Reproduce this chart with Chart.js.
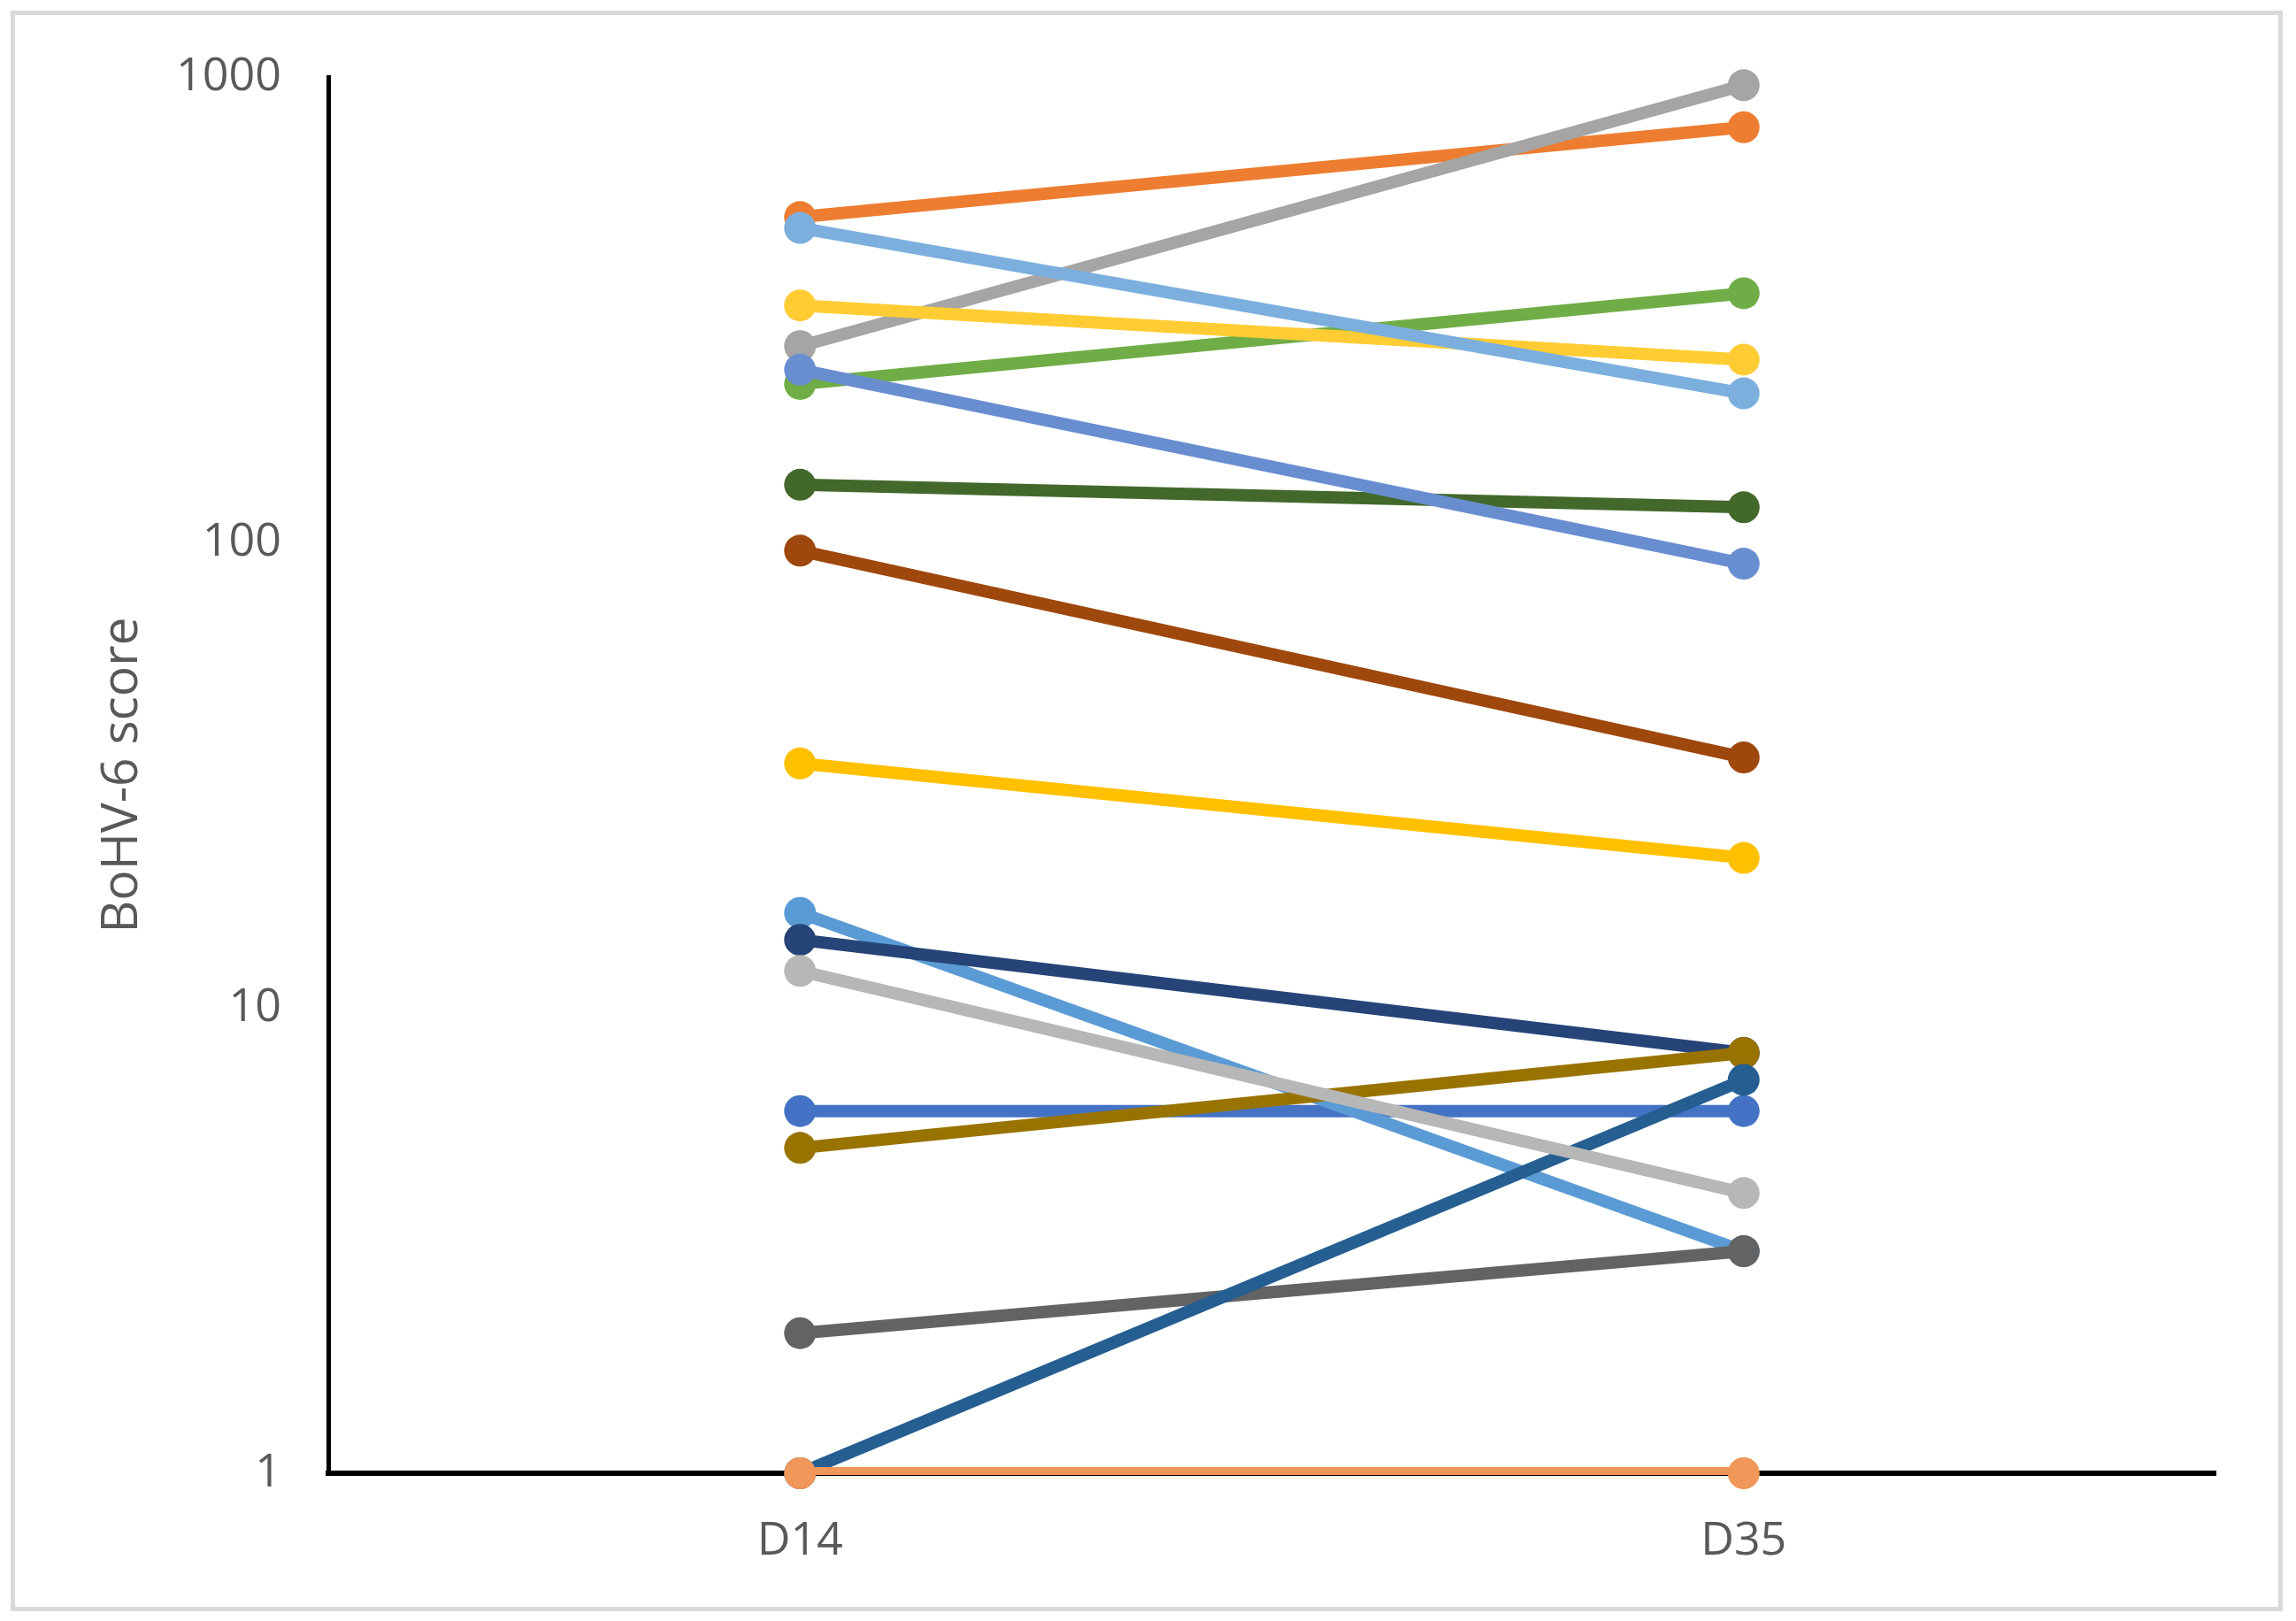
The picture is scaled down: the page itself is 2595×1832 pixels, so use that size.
<!DOCTYPE html>
<html>
<head>
<meta charset="utf-8">
<script src="https://cdn.jsdelivr.net/npm/chart.js@4.4.0/dist/chart.umd.min.js"></script>
<style>
  html, body { margin: 0; padding: 0; background: #fff; }
  #wrap { position: relative; width: 2595px; height: 1832px; }
  #frame { position: absolute; left: 12px; top: 12px; width: 2558px; height: 1799px; border: 5px solid #d9d9d9; }
  canvas { position: absolute; left: 0; top: 0; }
</style>
</head>
<body>
<div id="wrap">
  <div id="frame"></div>
  <canvas id="scoreChart" width="2595" height="1832"></canvas>
</div>
<script>
// ===== data =====
const days = ['D14', 'D35'];
const yTicks = [1, 10, 100, 1000];
const d14 = [6, 500, 264, 33.5, 16, 219, 14, 96, 2, 5, 1, 133, 235, 1, 12, 323, 474];
const d35 = [6, 780, 960, 21, 3, 343, 8, 34.5, 3, 8, 7, 119, 90, 1, 4, 247, 209];
const colors = [
    '#4472c4', '#ed7d31', '#a5a5a5', '#ffc000', '#5b9bd5', '#70ad47',
    '#264478', '#9e480e', '#636363', '#997300', '#255e91', '#43682b',
    '#698ed0', '#f1975a', '#b7b7b7', '#ffcd33', '#7cafdd'
];

const textColor = '#595959';
const tickFont = { family: "'Open Sans', sans-serif", size: 52 };
const titleFont = { family: "'Open Sans', sans-serif", size: 57 };
const n = d14.length;

// each series = a line (clipped to the plot like excel) + its markers (not clipped)
// later series sit on top
const datasets = [];
d14.forEach((v, i) => {
    datasets.push({
        data: [v, d35[i]],
        borderColor: colors[i],
        borderWidth: 14,
        pointRadius: 0,
        pointHoverRadius: 0,
        order: 2 * (n - i),
        clip: { left: false, top: false, right: false, bottom: 2 }
    });
    datasets.push({
        data: [v, d35[i]],
        showLine: false,
        backgroundColor: colors[i],
        pointBackgroundColor: colors[i],
        pointRadius: 18,
        pointBorderWidth: 0,
        pointHoverRadius: 18,
        order: 2 * (n - i) - 1,
        clip: false
    });
});

new Chart(document.getElementById('scoreChart'), {
    type: 'line',
    data: { labels: days, datasets: datasets },
    options: {
        responsive: false,
        animation: false,
        layout: { padding: { left: 0, top: 87, right: 91, bottom: 0 } },
        plugins: { legend: { display: false }, tooltip: { enabled: false } },
        scales: {
            x: {
                offset: true,
                grid: { display: false, drawTicks: false },
                border: { display: true, color: '#000', width: 6 },
                ticks: { color: textColor, font: tickFont, padding: 46 },
                afterFit: s => { s.height = 167; }
            },
            y: {
                type: 'logarithmic',
                min: 1,
                max: 1000,
                grid: { display: false, drawTicks: false },
                border: { display: true, color: '#000', width: 5 },
                ticks: { color: textColor, font: tickFont, padding: 53, callback: v => String(v) },
                afterBuildTicks: s => { s.ticks = yTicks.map(v => ({ value: v })); },
                title: {
                    display: true,
                    text: 'BoHV-6 score',
                    color: textColor,
                    font: titleFont,
                    padding: { top: 105, bottom: 0 }
                },
                afterFit: s => { s.width = 371; }
            }
        }
    }
});
</script>
</body>
</html>
